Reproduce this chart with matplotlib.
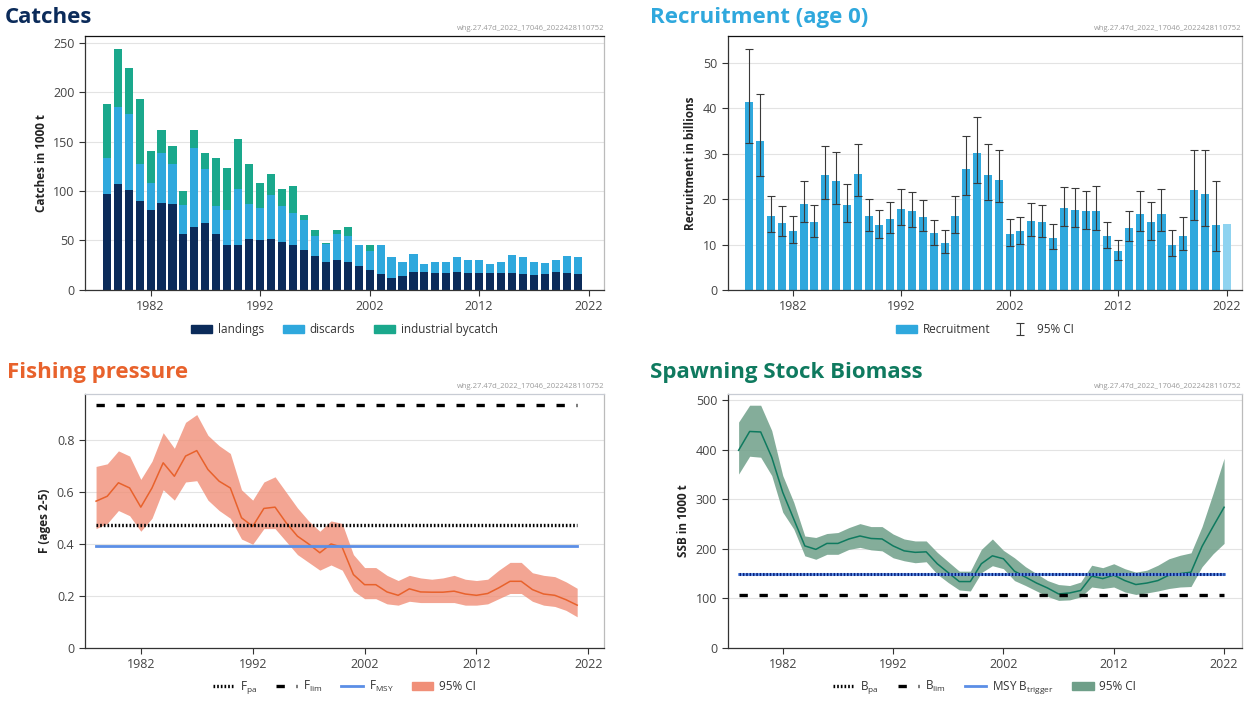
import matplotlib
matplotlib.use("Agg")
import matplotlib.pyplot as plt
import numpy as np
from matplotlib.lines import Line2D
from matplotlib.patches import Patch

plt.rcParams["font.family"] = ["Open Sans", "DejaVu Sans"]
plt.rcParams["mathtext.default"] = "regular"

# ---------- data ----------
years_c = list(range(1978, 2022))
landings = [97.3, 107, 101, 89.5, 80.4, 88, 86.5, 56.4, 63.5, 68, 56.4, 45, 45.6, 51.7, 50.7, 51.7,
            48.3, 45.6, 39.9, 34.8, 28, 30, 28, 24.3, 20.3, 15.9, 12.5, 14.5, 17.9, 18.2, 17.6, 17.6,
            18.6, 17.6, 16.9, 16.9, 16.9, 16.9, 16, 15, 16, 18.6, 17.6, 16]
discards = [35.7, 78, 77, 37.5, 27.6, 50, 40.5, 29.6, 80.5, 54, 28.1, 35.4, 56.4, 35.3, 32.1, 44.3,
            36.7, 32.1, 30.4, 20.2, 18.6, 26.8, 26.7, 20.7, 18.6, 29.1, 20.3, 14.2, 18.6, 8.2, 10.4, 10.4,
            15.2, 12.8, 13.2, 9.5, 11.1, 18.6, 17, 13.7, 11.7, 11.8, 16.9, 17]
bycatch = [55, 59, 46, 65.6, 32, 24, 19, 14.3, 18, 16.5, 48.9, 42.9, 51, 40.4, 25.6, 21,
           17, 27.7, 5.7, 5.8, 0.7, 4, 8.8, 0, 6.7, 0, 0, 0, 0, 0, 0, 0,
           0, 0, 0, 0, 0, 0, 0, 0, 0, 0, 0, 0]

years_r = list(range(1978, 2023))
recruit = [41.5, 32.9, 16.2, 14.7, 13.0, 19.0, 14.9, 25.4, 24.0, 18.8, 25.6, 16.2, 14.2, 15.6, 17.9,
           17.4, 16.0, 12.5, 10.3, 16.2, 26.7, 30.1, 25.4, 24.3, 12.4, 12.9, 15.1, 14.9, 11.5, 18.0,
           17.6, 17.4, 17.4, 11.8, 8.6, 13.6, 16.7, 14.9, 16.8, 9.9, 11.8, 22.1, 21.1, 14.3, 14.5]
recruit_hi = [53.2, 43.2, 20.7, 18.6, 16.3, 24.0, 18.8, 31.8, 30.4, 23.3, 32.2, 20.1, 17.6, 19.4, 22.2,
              21.5, 19.9, 15.4, 13.1, 20.6, 34.0, 38.2, 32.1, 30.8, 15.7, 16.0, 19.1, 18.8, 14.6, 22.6,
              22.4, 21.8, 22.8, 14.9, 10.9, 17.4, 21.8, 19.4, 22.2, 13.2, 16.0, 30.9, 30.9, 23.9]
recruit_lo = [32.4, 25.1, 12.7, 11.8, 10.3, 14.9, 11.6, 20.0, 19.0, 14.9, 20.6, 13.0, 11.4, 12.5, 14.3,
              13.8, 12.9, 9.9, 8.1, 12.5, 21.0, 23.5, 19.9, 19.3, 9.6, 10.1, 11.8, 11.6, 9.0, 14.0,
              13.8, 13.4, 13.2, 9.2, 6.6, 10.7, 12.9, 11.0, 12.9, 7.5, 8.8, 15.4, 14.1, 8.5]

years_f = list(range(1978, 2022))
f_val = [0.566, 0.585, 0.637, 0.617, 0.543, 0.617, 0.714, 0.662, 0.74, 0.761, 0.688, 0.643, 0.617,
         0.502, 0.469, 0.538, 0.543, 0.482, 0.431, 0.401, 0.367, 0.401, 0.388, 0.283, 0.244, 0.244,
         0.216, 0.203, 0.228, 0.216, 0.215, 0.215, 0.219, 0.208, 0.203, 0.21, 0.232, 0.257, 0.257,
         0.225, 0.208, 0.203, 0.186, 0.165]
f_hi = [0.70, 0.71, 0.76, 0.74, 0.65, 0.72, 0.83, 0.77, 0.87, 0.90, 0.82, 0.78, 0.75, 0.61, 0.57,
        0.64, 0.66, 0.60, 0.54, 0.49, 0.45, 0.49, 0.48, 0.36, 0.31, 0.31, 0.28, 0.26, 0.28, 0.27,
        0.265, 0.27, 0.28, 0.265, 0.26, 0.265, 0.30, 0.33, 0.33, 0.29, 0.28, 0.275, 0.255, 0.23]
f_lo = [0.46, 0.48, 0.53, 0.51, 0.45, 0.50, 0.61, 0.57, 0.64, 0.645, 0.57, 0.53, 0.50, 0.42, 0.40,
        0.46, 0.46, 0.41, 0.36, 0.33, 0.30, 0.32, 0.30, 0.22, 0.19, 0.19, 0.17, 0.165, 0.18, 0.175,
        0.175, 0.175, 0.175, 0.165, 0.165, 0.17, 0.19, 0.21, 0.21, 0.18, 0.165, 0.16, 0.145, 0.12]
F_PA, F_LIM, F_MSY = 0.473, 0.936, 0.394

years_s = list(range(1978, 2023))
ssb = [399, 437, 436, 385, 314, 260, 206, 199, 211, 211, 220, 226, 221, 220, 206, 196, 193, 194,
       170, 152, 134, 134, 170, 186, 180, 155, 143, 131, 121, 109, 111, 116, 145, 140, 147, 136,
       128, 131, 136, 147, 150, 153, 205, 245, 284]
ssb_hi = [456, 490, 490, 439, 348, 294, 226, 223, 231, 233, 243, 251, 245, 245, 230, 220, 216, 216,
          193, 174, 155, 155, 199, 220, 197, 182, 164, 150, 136, 128, 126, 133, 167, 162, 170, 160,
          153, 157, 167, 180, 187, 192, 245, 312, 383]
ssb_lo = [351, 387, 385, 348, 274, 240, 186, 179, 189, 189, 199, 203, 198, 196, 182, 176, 172, 174,
          149, 132, 117, 115, 152, 166, 160, 136, 126, 115, 104, 96, 97, 103, 123, 120, 123, 113,
          108, 111, 115, 120, 123, 124, 164, 190, 211]
B_PA, B_LIM, B_TRIG = 150, 107, 150

STAMP = "whg.27.47d_2022_17046_2022428110752"
NAVY = "#0b2b5a"; SKY = "#2fa8dd"; TEAL = "#1aa88c"
ORANGE = "#e8622c"; GREEN = "#0f7a5f"

fig = plt.figure(figsize=(12.48, 7.02), dpi=100)
fig.patch.set_facecolor("white")

def frame(ax, top_col):
    ax.spines["top"].set_color(top_col)
    ax.spines["right"].set_color("#bbbbbb")
    ax.spines["left"].set_color("#333333")
    ax.spines["bottom"].set_color("#333333")
    for s in ax.spines.values():
        s.set_linewidth(0.9)
    ax.yaxis.grid(True, color="#e3e3e3", lw=0.8)
    ax.set_axisbelow(True)
    ax.tick_params(colors="#333333", labelcolor="#444444", labelsize=9, length=4, width=0.8)
    ax.set_xticks([1982, 1992, 2002, 2012, 2022])
    ax.text(1.0, 1.015, STAMP, transform=ax.transAxes, ha="right", va="bottom",
            fontsize=5.5, color="#9a9a9a")

def legend(ax, handles, labels):
    ax.legend(handles, labels, loc="center", bbox_to_anchor=(0.5, -0.155), ncol=len(handles),
              frameon=False, fontsize=8.5, handlelength=1.8, columnspacing=1.6, handletextpad=0.5,
              labelcolor="#333333")

# ---------- Catches ----------
ax = fig.add_axes([0.068, 0.587, 0.416, 0.362])
bott2 = np.array(landings) + np.array(discards)
ax.bar(years_c, landings, width=0.74, color=NAVY)
ax.bar(years_c, discards, width=0.74, bottom=landings, color=SKY)
ax.bar(years_c, bycatch, width=0.74, bottom=bott2, color=TEAL)
ax.set_xlim(1976, 2023.4); ax.set_ylim(0, 257)
ax.set_yticks([0, 50, 100, 150, 200, 250])
frame(ax, "#111111")
ax.set_ylabel("Catches in 1000 t", fontsize=8.5, fontweight="bold", color="#222222")
legend(ax, [Patch(color=NAVY), Patch(color=SKY), Patch(color=TEAL)],
       ["landings", "discards", "industrial bycatch"])
fig.text(0.004, 0.975, "Catches", fontsize=16, fontweight="bold", color=NAVY, va="center")

# ---------- Recruitment ----------
ax = fig.add_axes([0.583, 0.587, 0.412, 0.362])
cols = [SKY] * (len(years_r) - 1) + ["#8fd3f0"]
ax.bar(years_r, recruit, width=0.74, color=cols)
yr_ci = years_r[:len(recruit_hi)]
rv = np.array(recruit[:len(recruit_hi)])
err = [rv - np.array(recruit_lo), np.array(recruit_hi) - rv]
eb = ax.errorbar(yr_ci, rv, yerr=err, fmt="none", ecolor="#3a3a3a", elinewidth=0.8,
                 capsize=3, capthick=0.8)
ax.set_xlim(1976, 2023.4); ax.set_ylim(0, 56)
ax.set_yticks([0, 10, 20, 30, 40, 50])
frame(ax, "#111111")
ax.set_ylabel("Recruitment in billions", fontsize=8.5, fontweight="bold", color="#222222")
legend(ax, [Patch(color=SKY), eb], ["Recruitment", "95% CI"])
fig.text(0.521, 0.975, "Recruitment (age 0)", fontsize=16, fontweight="bold", color=SKY, va="center")

# ---------- Fishing pressure ----------
ax = fig.add_axes([0.068, 0.077, 0.416, 0.362])
ax.fill_between(years_f, f_lo, f_hi, color="#f08f78", alpha=0.8, lw=0)
ax.plot(years_f, f_val, color=ORANGE, lw=1.1)
x0, x1 = years_f[0], years_f[-1]
ax.plot([x0, x1], [F_PA, F_PA], color="black", lw=2.4, ls=(0, (0.5, 0.6)))
ax.plot([x0, x1], [F_LIM, F_LIM], color="black", lw=2.4, ls=(0, (2.5, 3.5)))
ax.plot([x0, x1], [F_MSY, F_MSY], color="#5b8ee6", lw=2.0)
ax.set_xlim(1977, 2023.4); ax.set_ylim(0, 0.98)
ax.set_yticks([0, 0.2, 0.4, 0.6, 0.8])
ax.set_yticklabels(["0", "0.2", "0.4", "0.6", "0.8"])
frame(ax, "#c8ccd4")
ax.set_ylabel("F (ages 2-5)", fontsize=8.5, fontweight="bold", color="#222222")
legend(ax, [Line2D([], [], color="black", lw=2.4, ls=(0, (0.5, 0.6))),
            Line2D([], [], color="black", lw=2.4, ls=(0, (2.5, 3.5))),
            Line2D([], [], color="#5b8ee6", lw=2.0),
            Patch(color="#f08f78")],
       ["F$_{pa}$", "F$_{lim}$", "F$_{MSY}$", "95% CI"])
fig.text(0.006, 0.47, "Fishing pressure", fontsize=16, fontweight="bold", color=ORANGE, va="center")

# ---------- SSB ----------
ax = fig.add_axes([0.583, 0.077, 0.412, 0.362])
ax.fill_between(years_s, ssb_lo, ssb_hi, color="#6f9f89", alpha=0.85, lw=0)
ax.plot(years_s, ssb, color=GREEN, lw=1.1)
x0, x1 = years_s[0], years_s[-1]
ax.plot([x0, x1], [B_TRIG, B_TRIG], color="#5b8ee6", lw=2.0)
ax.plot([x0, x1], [B_PA, B_PA], color="#0a1f7a", lw=2.2, ls=(0, (0.5, 0.6)))
ax.plot([x0, x1], [B_LIM, B_LIM], color="black", lw=2.4, ls=(0, (2.5, 3.5)))
ax.set_xlim(1977, 2023.6); ax.set_ylim(0, 513)
ax.set_yticks([0, 100, 200, 300, 400, 500])
frame(ax, "#c8ccd4")
ax.set_ylabel("SSB in 1000 t", fontsize=8.5, fontweight="bold", color="#222222")
legend(ax, [Line2D([], [], color="black", lw=2.4, ls=(0, (0.5, 0.6))),
            Line2D([], [], color="black", lw=2.4, ls=(0, (2.5, 3.5))),
            Line2D([], [], color="#5b8ee6", lw=2.0),
            Patch(color="#6f9f89")],
       ["B$_{pa}$", "B$_{lim}$", "MSY B$_{trigger}$", "95% CI"])
fig.text(0.521, 0.47, "Spawning Stock Biomass", fontsize=16, fontweight="bold", color=GREEN, va="center")

fig.savefig("out.png", dpi=100, facecolor="white")
